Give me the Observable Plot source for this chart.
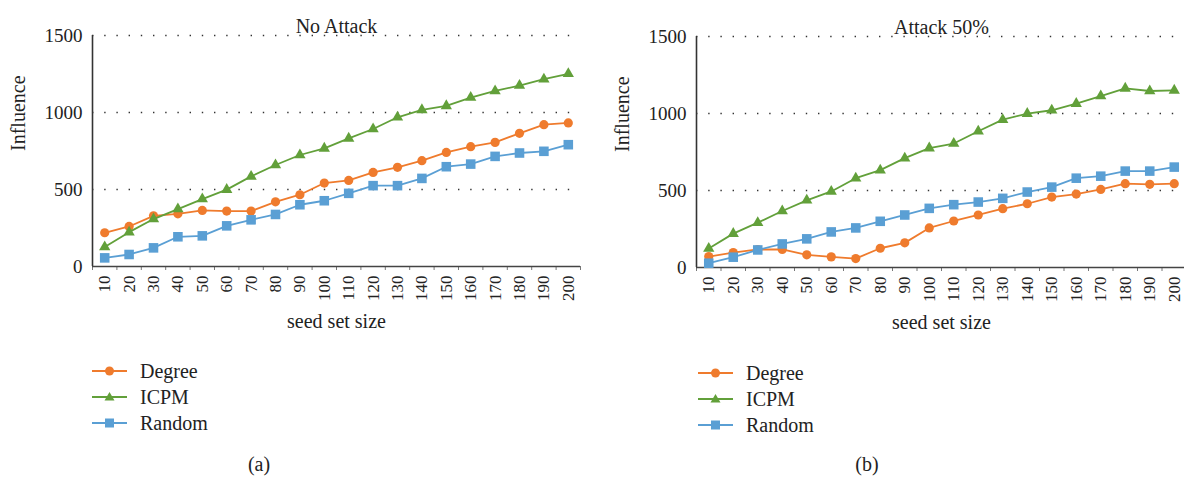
<!DOCTYPE html>
<html>
<head>
<meta charset="utf-8">
<script src="https://cdn.jsdelivr.net/npm/d3@7"></script>
<script src="https://cdn.jsdelivr.net/npm/@observablehq/plot@0.6"></script>
<style>
  html, body { margin: 0; padding: 0; background: #fff; overflow: hidden; }
  #root { position: relative; width: 1184px; height: 479px; font-family: "Liberation Serif", "DejaVu Serif", serif; color: #222; overflow: hidden; }
  .panel { position: absolute; top: 0; width: 592px; }
  .panel svg { max-width: none !important; }
  .panel svg text { font-family: "Liberation Serif", serif; }
  .legend { position: absolute; font-size: 20px; line-height: 26px; }
  .legend .row { display: flex; align-items: center; height: 26px; }
  .legend svg { margin-right: 13px; }
  .caption { position: absolute; font-size: 20px; transform: translate(-50%, -50%); }
</style>
</head>
<body>
<div id="root"></div>
<script>
// ---- data ----
const seeds = [10, 20, 30, 40, 50, 60, 70, 80, 90, 100, 110, 120, 130, 140, 150, 160, 170, 180, 190, 200];
const seriesNames = ["Degree", "ICPM", "Random"];
const seriesColors = ["#ef7b2d", "#62a03a", "#5a9fd4"];
const seriesSymbols = ["circle", "triangle", "square"];
const yTicks = [0, 500, 1000, 1500];

const noAttackDegree = [219, 260, 329, 342, 364, 360, 360, 420, 466, 542, 559, 611, 644, 687, 741, 778, 806, 865, 921, 932];
const noAttackICPM   = [126, 223, 308, 373, 438, 499, 585, 659, 724, 767, 832, 893, 969, 1017, 1043, 1097, 1140, 1175, 1216, 1251];
const noAttackRandom = [56, 78, 121, 193, 199, 264, 303, 338, 401, 427, 475, 525, 525, 572, 648, 665, 715, 737, 748, 791];

const attackDegree = [71, 97, 117, 117, 82, 69, 58, 125, 160, 257, 302, 341, 382, 414, 457, 477, 507, 544, 540, 544];
const attackICPM   = [123, 220, 291, 367, 436, 494, 580, 632, 710, 775, 805, 885, 960, 999, 1021, 1064, 1113, 1163, 1146, 1150];
const attackRandom = [28, 67, 114, 153, 186, 231, 257, 300, 341, 384, 408, 425, 449, 490, 522, 580, 593, 626, 626, 652];

const titles = ["No Attack", "Attack 50%"];
const captions = ["(a)", "(b)"];
const xLabel = "seed set size";
const yLabel = "Influence";

// ---- drawing ----
const FONT = "Liberation Serif";
function makeChart(title, valuesList, marginRight) {
  const rows = [];
  valuesList.forEach((vals, si) => {
    vals.forEach((v, i) => rows.push({size: seeds[i], value: v, name: seriesNames[si]}));
  });
  const step = seeds[1] - seeds[0];
  const boundaries = seeds.map(d => d - step / 2).concat([seeds[seeds.length - 1] + step / 2]);
  const marks = [
    Plot.gridY(yTicks.filter(d => d > 0), {stroke: "#333", strokeOpacity: 1, strokeWidth: 1.4, strokeDasharray: "1.4,10.8"}),
    Plot.axisY({ticks: yTicks, tickSize: 0, tickPadding: 10, fontSize: 19, fontFamily: FONT, fill: "#222", tickFormat: d => String(d), label: null}),
    Plot.axisX({ticks: seeds, tickSize: 0, tickPadding: 9, tickRotate: -90, fontSize: 17, fontFamily: FONT, fill: "#222", tickFormat: d => String(d), label: null}),
    Plot.axisX({ticks: boundaries, tickSize: 4, tickFormat: () => "", label: null, stroke: "#777"}),
    Plot.ruleX([boundaries[0]], {stroke: "#333", strokeWidth: 1.6}),
    Plot.ruleY([0], {stroke: "#444", strokeWidth: 1.6}),
  ];
  seriesNames.forEach((name, si) => {
    const d = rows.filter(r => r.name === name);
    marks.push(Plot.line(d, {x: "size", y: "value", stroke: seriesColors[si], strokeWidth: 1.8}));
    const r = si === 0 ? 4.6 : si === 1 ? 4.2 : 5.4;
    marks.push(Plot.dot(d, {x: "size", y: "value", fill: seriesColors[si], stroke: "none", symbol: seriesSymbols[si], r}));
  });
  marks.push(Plot.text([title], {text: d => d, frameAnchor: "top", dy: -17, fontSize: 20, fontFamily: FONT, fill: "#222"}));
  marks.push(Plot.text([xLabel], {text: d => d, frameAnchor: "bottom", dy: 61, fontSize: 20, fontFamily: FONT, fill: "#222"}));
  marks.push(Plot.text([yLabel], {text: d => d, frameAnchor: "left", dx: -74, rotate: -90, fontSize: 20, fontFamily: FONT, fill: "#222"}));
  return Plot.plot({
    width: 592,
    height: 345,
    marginLeft: 92,
    marginRight,
    marginTop: 35,
    marginBottom: 79,
    x: {type: "linear", domain: [boundaries[0], boundaries[boundaries.length - 1]]},
    y: {domain: [0, 1500]},
    style: {fontFamily: FONT, fontSize: "19px", color: "#222", background: "transparent", overflow: "visible", maxWidth: "none", width: "592px", height: "345px"},
    marks
  });
}

function makeLegend() {
  const div = document.createElement("div");
  div.className = "legend";
  seriesNames.forEach((name, si) => {
    const row = document.createElement("div");
    row.className = "row";
    let marker;
    if (seriesSymbols[si] === "circle") marker = `<circle cx="17.5" cy="7" r="4.5" fill="${seriesColors[si]}"/>`;
    else if (seriesSymbols[si] === "triangle") marker = `<path d="M17.5,2 L22.5,10.5 L12.5,10.5 Z" fill="${seriesColors[si]}"/>`;
    else marker = `<rect x="13" y="2.5" width="9" height="9" fill="${seriesColors[si]}"/>`;
    row.innerHTML = `<svg width="35" height="14"><line x1="0" x2="35" y1="7" y2="7" stroke="${seriesColors[si]}" stroke-width="1.8"/>${marker}</svg><span>${name}</span>`;
    div.appendChild(row);
  });
  return div;
}

const root = document.getElementById("root");
const panels = [
  {vals: [noAttackDegree, noAttackICPM, noAttackRandom], left: 0, top: 0, mr: 12, legendLeft: 92, legendTop: 358, capX: 259},
  {vals: [attackDegree, attackICPM, attackRandom], left: 604, top: 1, mr: 10, legendLeft: 698, legendTop: 360, capX: 867}
];
panels.forEach((p, i) => {
  const wrap = document.createElement("div");
  wrap.className = "panel";
  wrap.style.left = p.left + "px";
  wrap.style.top = p.top + "px";
  wrap.appendChild(makeChart(titles[i], p.vals, p.mr));
  root.appendChild(wrap);
  const lg = makeLegend();
  lg.style.left = p.legendLeft + "px";
  lg.style.top = p.legendTop + "px";
  root.appendChild(lg);
  const cap = document.createElement("div");
  cap.className = "caption";
  cap.textContent = captions[i];
  cap.style.left = p.capX + "px";
  cap.style.top = "464px";
  root.appendChild(cap);
});
</script>
</body>
</html>
